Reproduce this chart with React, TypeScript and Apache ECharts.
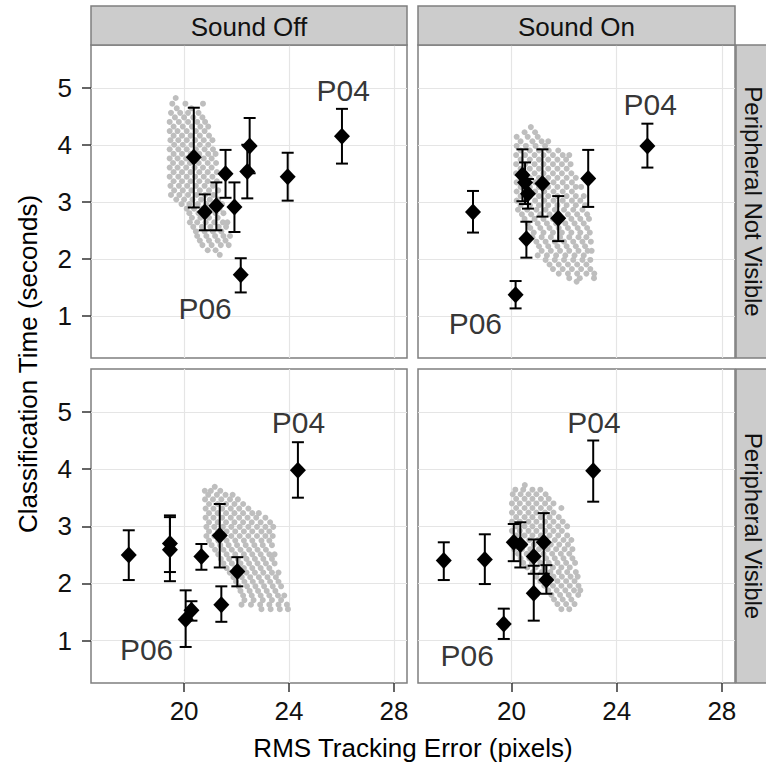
import React, { useEffect, useRef } from "react";
import * as echarts from "echarts";

const FONT = '"Liberation Sans", Arial, Helvetica, sans-serif';

// ---------- axes / facets ----------
const X_TICKS = [20, 24, 28];
const Y_TICKS = [1, 2, 3, 4, 5];
const X_RANGE = [16.45, 28.5];
const Y_RANGE = [0.26, 5.75];
const COLUMN_LABELS = ["Sound Off", "Sound On"];
const ROW_LABELS = ["Peripheral Not Visible", "Peripheral Visible"];
const X_TITLE = "RMS Tracking Error (pixels)";
const Y_TITLE = "Classification Time (seconds)";
const LABEL_NAMES = ["P04", "P06"];

// ---------- participant means with error bars ----------
// Sound Off / Peripheral Not Visible
const offHiddenX = [20.37, 20.79, 21.23, 21.58, 21.92, 22.16, 22.41, 22.5, 23.95, 26.02];
const offHiddenY = [3.78, 2.82, 2.93, 3.49, 2.91, 1.72, 3.53, 3.98, 3.44, 4.15];
const offHiddenLo = [2.9, 2.5, 2.5, 3.07, 2.47, 1.41, 3.06, 3.5, 3.02, 3.67];
const offHiddenHi = [4.65, 3.13, 3.34, 3.91, 3.34, 2.01, 4.0, 4.47, 3.86, 4.63];
const offHiddenLabelX = [26.07, 20.8];
const offHiddenLabelY = [4.96, 1.12];

// Sound On / Peripheral Not Visible
const onHiddenX = [18.54, 20.16, 20.42, 20.52, 20.63, 20.57, 21.18, 21.78, 22.92, 25.17];
const onHiddenY = [2.82, 1.37, 3.47, 3.34, 3.14, 2.35, 3.32, 2.71, 3.41, 3.98];
const onHiddenLo = [2.46, 1.13, 3.01, 2.96, 2.88, 2.02, 2.74, 2.31, 2.91, 3.6];
const onHiddenHi = [3.19, 1.61, 3.92, 3.69, 3.4, 2.65, 3.92, 3.1, 3.91, 4.37];
const onHiddenLabelX = [25.28, 18.63];
const onHiddenLabelY = [4.71, 0.87];

// Sound Off / Peripheral Visible
const offVisibleX = [17.89, 19.46, 19.46, 20.06, 20.28, 20.66, 21.36, 21.42, 22.03, 24.34];
const offVisibleY = [2.5, 2.7, 2.59, 1.37, 1.53, 2.47, 2.84, 1.63, 2.21, 3.98];
const offVisibleLo = [2.06, 2.2, 2.04, 0.89, 1.35, 2.24, 2.28, 1.33, 1.95, 3.5];
const offVisibleHi = [2.93, 3.19, 3.16, 1.88, 1.69, 2.69, 3.39, 1.95, 2.46, 4.47];
const offVisibleLabelX = [24.36, 18.57];
const offVisibleLabelY = [4.81, 0.84];

// Sound On / Peripheral Visible
const onVisibleX = [17.43, 18.99, 19.71, 20.09, 20.34, 20.85, 20.85, 21.23, 21.33, 23.11];
const onVisibleY = [2.4, 2.42, 1.29, 2.72, 2.68, 2.47, 1.83, 2.72, 2.06, 3.97];
const onVisibleLo = [2.06, 1.99, 1.03, 2.39, 2.28, 2.17, 1.35, 2.17, 1.82, 3.43];
const onVisibleHi = [2.72, 2.86, 1.56, 3.04, 3.07, 2.77, 2.31, 3.23, 2.32, 4.5];
const onVisibleLabelX = [23.14, 18.32];
const onVisibleLabelY = [4.81, 0.74];

// ---------- grey background clouds: each row = [y, x1, x2, ...] ----------
const cloudOffHidden = [
  [4.82, 19.68],
  [4.72, 19.55, 20.05, 20.72],
  [4.64, 19.72, 20.28],
  [4.56, 19.5, 19.85, 20.15, 20.55],
  [4.48, 19.65, 20.0, 20.35, 20.7],
  [4.4, 19.45, 19.8, 20.15, 20.5, 20.8],
  [4.32, 19.6, 19.95, 20.3, 20.62, 20.92],
  [4.24, 19.45, 19.75, 20.1, 20.45, 20.78],
  [4.16, 19.6, 19.92, 20.25, 20.6, 20.95],
  [4.08, 19.48, 19.78, 20.1, 20.42, 20.75, 21.08],
  [4.0, 19.62, 19.95, 20.28, 20.6, 20.92],
  [3.92, 19.45, 19.78, 20.1, 20.45, 20.78, 21.1],
  [3.84, 19.6, 19.92, 20.25, 20.58, 20.92, 21.2],
  [3.76, 19.45, 19.75, 20.08, 20.42, 20.75, 21.05],
  [3.68, 19.58, 19.9, 20.22, 20.56, 20.9, 21.22],
  [3.6, 19.45, 19.75, 20.08, 20.4, 20.72, 21.05],
  [3.52, 19.6, 19.92, 20.25, 20.58, 20.9, 21.25],
  [3.44, 19.45, 19.78, 20.1, 20.42, 20.75, 21.08],
  [3.36, 19.6, 19.92, 20.25, 20.58, 20.9, 21.25],
  [3.28, 19.48, 19.8, 20.12, 20.45, 20.78, 21.1],
  [3.2, 19.62, 19.95, 20.28, 20.6, 20.95, 21.3],
  [3.12, 19.5, 19.82, 20.15, 20.48, 20.8, 21.12],
  [3.04, 19.7, 20.0, 20.32, 20.65, 20.98, 21.3],
  [2.96, 19.9, 20.2, 20.52, 20.85, 21.18, 21.45],
  [2.88, 20.1, 20.38, 20.7, 21.02, 21.35],
  [2.8, 20.2, 20.55, 20.88, 21.2, 21.5],
  [2.72, 20.3, 20.62, 20.95, 21.28],
  [2.64, 20.22, 20.5, 20.82, 21.15, 21.48, 21.65],
  [2.56, 20.35, 20.68, 21.0, 21.32, 21.6],
  [2.48, 20.45, 20.78, 21.1, 21.42],
  [2.4, 20.5, 20.85, 21.18, 21.5, 21.75],
  [2.32, 20.6, 20.95, 21.28, 21.58],
  [2.24, 20.7, 21.05, 21.4, 21.7],
  [2.15, 20.9, 21.2],
  [2.07, 21.36],
];

const cloudOnHidden = [
  [4.31, 20.74],
  [4.22, 20.5, 20.9],
  [4.14, 20.2, 20.62, 21.0],
  [4.06, 20.35, 20.8, 21.15, 21.4],
  [3.98, 20.2, 20.55, 20.92, 21.28],
  [3.9, 20.35, 20.7, 21.05, 21.42, 21.78],
  [3.82, 20.18, 20.52, 20.88, 21.22, 21.58, 21.95, 22.2],
  [3.74, 20.35, 20.7, 21.05, 21.4, 21.75, 22.08],
  [3.66, 20.18, 20.52, 20.88, 21.22, 21.58, 21.92, 22.25],
  [3.58, 20.35, 20.7, 21.05, 21.4, 21.75, 22.1],
  [3.5, 20.18, 20.52, 20.88, 21.22, 21.58, 21.92, 22.28],
  [3.42, 20.35, 20.7, 21.05, 21.4, 21.75, 22.1, 22.45],
  [3.34, 20.2, 20.55, 20.9, 21.25, 21.6, 21.95, 22.3],
  [3.26, 20.35, 20.7, 21.05, 21.4, 21.75, 22.1, 22.45, 22.65],
  [3.18, 20.2, 20.55, 20.9, 21.25, 21.6, 21.95, 22.3],
  [3.1, 20.35, 20.7, 21.05, 21.4, 21.75, 22.1, 22.45, 22.75],
  [3.02, 20.2, 20.55, 20.9, 21.25, 21.6, 21.95, 22.3, 22.62],
  [2.94, 20.35, 20.7, 21.05, 21.4, 21.75, 22.1, 22.45, 22.8],
  [2.86, 20.25, 20.6, 20.95, 21.3, 21.65, 22.0, 22.35, 22.7],
  [2.78, 20.4, 20.75, 21.1, 21.45, 21.8, 22.15, 22.5, 22.88],
  [2.7, 20.5, 20.88, 21.22, 21.58, 21.92, 22.28, 22.62, 22.95],
  [2.62, 20.62, 21.0, 21.35, 21.7, 22.05, 22.4, 22.75],
  [2.54, 20.72, 21.1, 21.45, 21.8, 22.15, 22.52, 22.88],
  [2.46, 20.85, 21.22, 21.58, 21.92, 22.28, 22.62, 22.98],
  [2.38, 20.8, 21.15, 21.5, 21.85, 22.2, 22.55, 22.85],
  [2.3, 20.95, 21.3, 21.65, 22.0, 22.35, 22.7, 23.02],
  [2.22, 21.05, 21.4, 21.75, 22.1, 22.45, 22.8],
  [2.14, 21.15, 21.5, 21.85, 22.2, 22.55, 22.9, 23.05],
  [2.06, 21.0, 21.35, 21.7, 22.05, 22.4, 22.75],
  [1.98, 21.3, 21.65, 22.0, 22.35, 22.7, 23.0],
  [1.9, 21.45, 21.8, 22.15, 22.5, 22.85],
  [1.82, 21.58, 21.95, 22.3, 22.65, 23.0],
  [1.74, 21.8, 22.15, 22.5, 22.85, 23.15],
  [1.66, 22.2, 22.6, 23.14],
  [1.6, 22.48],
];

const cloudOffVisible = [
  [3.69, 21.17],
  [3.62, 20.79, 21.02, 21.38],
  [3.55, 20.92, 21.25, 21.58, 21.85],
  [3.47, 20.8, 21.1, 21.42, 21.75, 22.05],
  [3.39, 20.95, 21.28, 21.6, 21.92, 22.25],
  [3.31, 20.82, 21.12, 21.45, 21.78, 22.1, 22.45],
  [3.23, 20.95, 21.28, 21.6, 21.92, 22.25, 22.6, 22.85],
  [3.15, 20.82, 21.12, 21.45, 21.78, 22.1, 22.42, 22.75, 23.1],
  [3.07, 20.95, 21.28, 21.6, 21.92, 22.25, 22.58, 22.92, 23.28],
  [2.99, 20.85, 21.15, 21.48, 21.8, 22.12, 22.45, 22.78, 23.1, 23.4],
  [2.91, 20.95, 21.3, 21.62, 21.95, 22.28, 22.6, 22.95, 23.25],
  [2.83, 20.85, 21.15, 21.48, 21.8, 22.12, 22.45, 22.78, 23.1, 23.38],
  [2.75, 20.95, 21.3, 21.62, 21.95, 22.28, 22.6, 22.95, 23.25],
  [2.67, 21.05, 21.38, 21.7, 22.02, 22.35, 22.68, 23.0, 23.35],
  [2.59, 21.18, 21.5, 21.82, 22.15, 22.48, 22.8, 23.12],
  [2.51, 21.3, 21.62, 21.95, 22.28, 22.6, 22.92, 23.25, 23.45],
  [2.43, 21.4, 21.72, 22.05, 22.38, 22.7, 23.02, 23.35],
  [2.35, 21.5, 21.82, 22.15, 22.48, 22.8, 23.12, 23.45],
  [2.27, 21.62, 21.95, 22.28, 22.6, 22.92, 23.25],
  [2.19, 21.74, 22.05, 22.38, 22.7, 23.02, 23.35, 23.6],
  [2.11, 21.88, 22.2, 22.52, 22.85, 23.18, 23.5],
  [2.03, 21.98, 22.3, 22.62, 22.95, 23.28, 23.6],
  [1.95, 22.08, 22.4, 22.72, 23.05, 23.38, 23.7],
  [1.87, 22.15, 22.5, 22.82, 23.15, 23.48],
  [1.79, 22.25, 22.58, 22.92, 23.25, 23.58, 23.82],
  [1.71, 22.3, 22.65, 23.0, 23.35, 23.7],
  [1.63, 22.19, 22.55, 22.9, 23.25, 23.6, 23.92],
  [1.55, 22.95, 23.3, 23.65, 23.96],
];

const cloudOnVisible = [
  [3.72, 20.51],
  [3.64, 20.15, 20.45, 20.8, 21.1],
  [3.56, 20.05, 20.35, 20.65, 20.95, 21.3],
  [3.48, 20.18, 20.5, 20.8, 21.12, 21.42],
  [3.4, 20.02, 20.32, 20.65, 20.95, 21.28, 21.6],
  [3.32, 20.18, 20.5, 20.8, 21.12, 21.45, 21.9],
  [3.24, 20.02, 20.32, 20.65, 20.95, 21.28, 21.6],
  [3.16, 20.18, 20.5, 20.8, 21.12, 21.45, 21.8],
  [3.08, 20.02, 20.32, 20.65, 20.95, 21.28, 21.6, 21.95],
  [3.0, 20.18, 20.5, 20.8, 21.12, 21.45, 21.78, 22.12],
  [2.92, 20.02, 20.32, 20.65, 20.95, 21.28, 21.6, 21.92],
  [2.84, 20.18, 20.5, 20.8, 21.12, 21.45, 21.78, 22.12],
  [2.76, 20.05, 20.35, 20.68, 21.0, 21.32, 21.65, 21.98, 22.28],
  [2.68, 20.2, 20.52, 20.85, 21.18, 21.5, 21.82, 22.15],
  [2.6, 20.1, 20.4, 20.72, 21.05, 21.38, 21.7, 22.02, 22.32],
  [2.52, 20.25, 20.58, 20.9, 21.22, 21.55, 21.88, 22.2],
  [2.44, 20.35, 20.68, 21.0, 21.32, 21.65, 21.98, 22.32],
  [2.36, 20.45, 20.78, 21.1, 21.42, 21.75, 22.08, 22.42],
  [2.28, 20.6, 20.92, 21.25, 21.58, 21.9, 22.22],
  [2.2, 20.82, 21.15, 21.48, 21.8, 22.12, 22.45],
  [2.12, 20.95, 21.28, 21.6, 21.92, 22.25, 22.52],
  [2.04, 21.1, 21.42, 21.75, 22.08, 22.4],
  [1.96, 21.25, 21.58, 21.9, 22.22, 22.55],
  [1.88, 21.4, 21.72, 22.05, 22.38, 22.62],
  [1.8, 21.52, 21.85, 22.18, 22.54],
  [1.72, 21.62, 21.95, 22.28],
  [1.64, 21.75, 22.08, 22.4],
  [1.55, 21.9, 22.2],
];

type Panel = {
  cloud: number[][];
  x: number[];
  y: number[];
  lo: number[];
  hi: number[];
  labelX: number[];
  labelY: number[];
};

const PANELS: Panel[] = [
  { cloud: cloudOffHidden, x: offHiddenX, y: offHiddenY, lo: offHiddenLo, hi: offHiddenHi, labelX: offHiddenLabelX, labelY: offHiddenLabelY },
  { cloud: cloudOnHidden, x: onHiddenX, y: onHiddenY, lo: onHiddenLo, hi: onHiddenHi, labelX: onHiddenLabelX, labelY: onHiddenLabelY },
  { cloud: cloudOffVisible, x: offVisibleX, y: offVisibleY, lo: offVisibleLo, hi: offVisibleHi, labelX: offVisibleLabelX, labelY: offVisibleLabelY },
  { cloud: cloudOnVisible, x: onVisibleX, y: onVisibleY, lo: onVisibleLo, hi: onVisibleHi, labelX: onVisibleLabelX, labelY: onVisibleLabelY },
];

// layout (pixels)
const GRIDS = [
  { left: 91, top: 45, width: 316, height: 313 },
  { left: 418, top: 45, width: 317, height: 313 },
  { left: 91, top: 369, width: 316, height: 314 },
  { left: 418, top: 369, width: 317, height: 314 },
];

const BORDER = "#7f7f7f";
const STRIP_FILL = "#cccccc";
const TEXT = "#111111";

function buildOption() {
  const grid = GRIDS.map((g) => ({
    ...g,
    show: true,
    backgroundColor: "#ffffff",
    borderColor: BORDER,
    borderWidth: 1.5,
    containLabel: false,
  }));

  const xAxis = GRIDS.map((_, i) => {
    const bottom = i >= 2;
    return {
      type: "value",
      gridIndex: i,
      min: X_RANGE[0],
      max: X_RANGE[1],
      axisLine: { show: false },
      axisTick: {
        show: bottom,
        length: 9,
        customValues: X_TICKS,
        lineStyle: { color: "#333333", width: 1.5 },
      },
      axisLabel: {
        show: bottom,
        customValues: X_TICKS,
        fontSize: 26,
        fontFamily: FONT,
        color: TEXT,
        margin: 15,
      },
      splitLine: { show: true, lineStyle: { color: "#e5e5e5", width: 1.2 } },
    };
  });

  const yAxis = GRIDS.map((_, i) => {
    const left = i % 2 === 0;
    return {
      type: "value",
      gridIndex: i,
      min: Y_RANGE[0],
      max: Y_RANGE[1],
      axisLine: { show: false },
      axisTick: {
        show: left,
        length: 9,
        customValues: Y_TICKS,
        lineStyle: { color: "#333333", width: 1.5 },
      },
      axisLabel: {
        show: left,
        customValues: Y_TICKS,
        fontSize: 26,
        fontFamily: FONT,
        color: TEXT,
        margin: 19,
      },
      splitLine: { show: true, lineStyle: { color: "#e5e5e5", width: 1.2 } },
    };
  });

  const series: any[] = [];
  PANELS.forEach((p, i) => {
    const cloudData: number[][] = [];
    p.cloud.forEach((row) => {
      for (let k = 1; k < row.length; k++) cloudData.push([row[k], row[0]]);
    });
    series.push({
      type: "scatter",
      xAxisIndex: i,
      yAxisIndex: i,
      symbol: "circle",
      symbolSize: 6,
      itemStyle: { color: "#bebebe", opacity: 1 },
      data: cloudData,
      silent: true,
      z: 2,
    });
    series.push({
      type: "custom",
      xAxisIndex: i,
      yAxisIndex: i,
      encode: { x: 0, y: [1, 2] },
      data: p.x.map((x, k) => [x, p.lo[k], p.hi[k]]),
      renderItem: (_params: any, api: any) => {
        const x = api.value(0);
        const a = api.coord([x, api.value(1)]);
        const b = api.coord([x, api.value(2)]);
        const hw = 6;
        const style = { stroke: "#000000", lineWidth: 2 };
        return {
          type: "group",
          children: [
            { type: "line", shape: { x1: a[0], y1: a[1], x2: b[0], y2: b[1] }, style },
            { type: "line", shape: { x1: a[0] - hw, y1: a[1], x2: a[0] + hw, y2: a[1] }, style },
            { type: "line", shape: { x1: b[0] - hw, y1: b[1], x2: b[0] + hw, y2: b[1] }, style },
          ],
        };
      },
      silent: true,
      z: 3,
    });
    series.push({
      type: "scatter",
      xAxisIndex: i,
      yAxisIndex: i,
      symbol: "diamond",
      symbolSize: [16, 17],
      itemStyle: { color: "#000000", opacity: 1 },
      data: p.x.map((x, k) => [x, p.y[k]]),
      silent: true,
      z: 4,
    });
    series.push({
      type: "scatter",
      xAxisIndex: i,
      yAxisIndex: i,
      symbolSize: 1,
      itemStyle: { color: "rgba(0,0,0,0)" },
      data: LABEL_NAMES.map((name, k) => ({ name, value: [p.labelX[k], p.labelY[k]] })),
      label: {
        show: true,
        position: "inside",
        formatter: (d: any) => d.name,
        fontSize: 30,
        fontFamily: FONT,
        color: "#000000",
      },
      silent: true,
      z: 5,
    });
  });

  const graphic: any[] = [];
  // top strips
  [0, 1].forEach((c) => {
    const g = GRIDS[c];
    graphic.push({
      type: "rect",
      shape: { x: g.left, y: 6, width: g.width, height: g.top - 6 },
      style: { fill: STRIP_FILL, stroke: BORDER, lineWidth: 1.5 },
      z: 10,
    });
    graphic.push({
      type: "text",
      x: g.left + g.width / 2,
      y: (6 + g.top) / 2 + 1,
      style: {
        text: COLUMN_LABELS[c],
        font: `26px ${FONT}`,
        fill: TEXT,
        align: "center",
        verticalAlign: "middle",
      },
      z: 11,
    });
  });
  // right strips
  [1, 3].forEach((gi, r) => {
    const g = GRIDS[gi];
    const x0 = g.left + g.width + 1;
    graphic.push({
      type: "rect",
      shape: { x: x0, y: g.top, width: 40, height: g.height },
      style: { fill: STRIP_FILL, stroke: BORDER, lineWidth: 1.5 },
      z: 10,
    });
    graphic.push({
      type: "text",
      x: 753,
      y: g.top + g.height / 2,
      rotation: -Math.PI / 2,
      style: {
        text: ROW_LABELS[r],
        font: `24px ${FONT}`,
        fill: TEXT,
        align: "center",
        verticalAlign: "middle",
      },
      z: 11,
    });
  });
  // axis titles
  graphic.push({
    type: "text",
    x: (GRIDS[2].left + GRIDS[3].left + GRIDS[3].width) / 2,
    y: 748,
    style: {
      text: X_TITLE,
      font: `26px ${FONT}`,
      fill: "#000000",
      align: "center",
      verticalAlign: "middle",
    },
    z: 11,
  });
  graphic.push({
    type: "text",
    x: 28,
    y: (GRIDS[0].top + GRIDS[2].top + GRIDS[2].height) / 2,
    rotation: Math.PI / 2,
    style: {
      text: Y_TITLE,
      font: `26px ${FONT}`,
      fill: "#000000",
      align: "center",
      verticalAlign: "middle",
    },
    z: 11,
  });

  return {
    animation: false,
    backgroundColor: "#ffffff",
    textStyle: { fontFamily: FONT },
    grid,
    xAxis,
    yAxis,
    series,
    graphic,
  };
}

export default function App() {
  const ref = useRef<HTMLDivElement>(null);
  useEffect(() => {
    if (!ref.current) return;
    const chart = echarts.init(ref.current, undefined, { renderer: "svg" });
    chart.setOption(buildOption() as any);
    return () => chart.dispose();
  }, []);
  return (
    <div
      ref={ref}
      style={{ position: "fixed", left: 0, top: 0, width: 766, height: 771, background: "#fff" }}
    />
  );
}
